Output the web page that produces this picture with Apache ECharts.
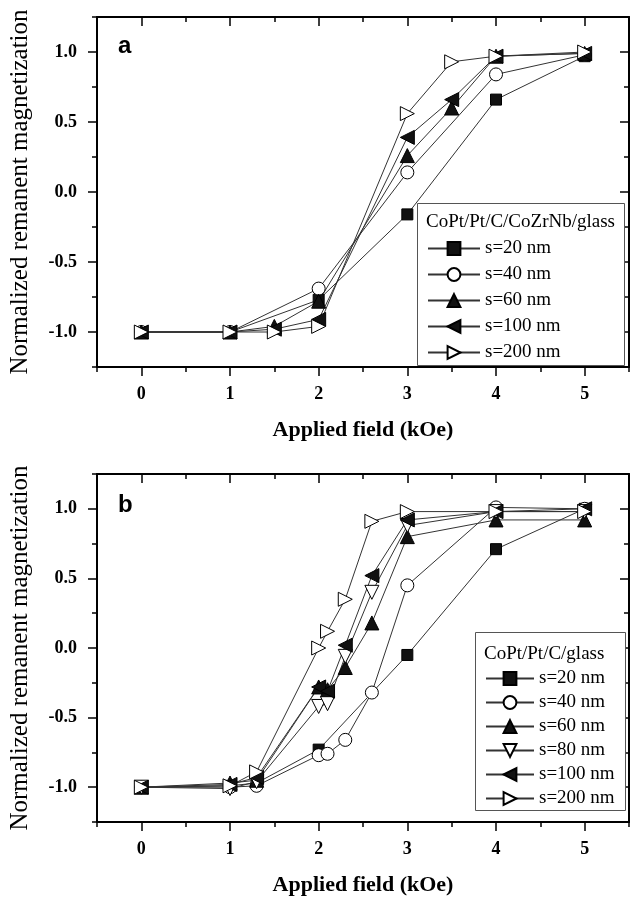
<!DOCTYPE html>
<html>
<head>
<meta charset="utf-8">
<script src="https://cdn.jsdelivr.net/npm/echarts@6/dist/echarts.min.js"></script>
<style>
  html, body { margin: 0; padding: 0; background: #fff; }
  #chart { width: 630px; height: 898px; }
</style>
</head>
<body>
<div id="chart"></div>
<script>
// panel a: CoPt/Pt/C/CoZrNb/glass
var aX20 = [0, 1, 2, 3, 4, 5]
var aY20 = [-1, -1, -0.77, -0.16, 0.66, 0.97]
var aX40 = [0, 1, 2, 3, 4, 5]
var aY40 = [-1, -1, -0.69, 0.14, 0.84, 0.98]
var aX60 = [0, 1, 1.5, 2, 3, 3.5, 4, 5]
var aY60 = [-1, -1, -0.96, -0.78, 0.26, 0.6, 0.97, 0.99]
var aX100 = [0, 1, 1.5, 2, 3, 3.5, 4, 5]
var aY100 = [-1, -1, -0.98, -0.91, 0.39, 0.66, 0.97, 0.99]
var aX200 = [0, 1, 1.5, 2, 3, 3.5, 4, 5]
var aY200 = [-1, -1, -1.0, -0.96, 0.56, 0.93, 0.97, 1.0]

// panel b: CoPt/Pt/C/glass
var bX20 = [0, 1, 1.3, 2, 3, 4, 5]
var bY20 = [-1, -0.99, -0.97, -0.73, -0.05, 0.71, 1.0]
var bX40 = [0, 1, 1.3, 2, 2.1, 2.3, 2.6, 3, 4, 5]
var bY40 = [-1, -1, -0.99, -0.77, -0.76, -0.66, -0.32, 0.45, 1.01, 1.0]
var bX60 = [0, 1, 1.3, 2, 2.1, 2.3, 2.6, 3, 4, 5]
var bY60 = [-1, -0.97, -0.95, -0.28, -0.3, -0.14, 0.18, 0.8, 0.92, 0.92]
var bX80 = [0, 1, 1.3, 2, 2.1, 2.3, 2.6, 3, 4, 5]
var bY80 = [-1, -1.01, -0.96, -0.42, -0.4, -0.06, 0.4, 0.88, 0.98, 0.98]
var bX100 = [0, 1, 1.3, 2, 2.1, 2.3, 2.6, 3, 4, 5]
var bY100 = [-1, -0.98, -0.93, -0.28, -0.31, 0.02, 0.52, 0.92, 0.98, 1.0]
var bX200 = [0, 1, 1.3, 2, 2.1, 2.3, 2.6, 3, 4, 5]
var bY200 = [-1, -0.99, -0.89, 0.0, 0.12, 0.35, 0.91, 0.98, 0.98, 0.98]

var xMajor = [0, 1, 2, 3, 4, 5]
var xMinor = [-0.5, 0.5, 1.5, 2.5, 3.5, 4.5, 5.5]
var yMajor = [-1, -0.5, 0, 0.5, 1]
var yMinor = [-1.25, -0.75, -0.25, 0.25, 0.75, 1.25]

var serif = 'Liberation Serif'

// marker look per sample
var markers = {
  's=20 nm': { symbol: 'rect', size: 11, fill: '#111', rotate: 0 },
  's=40 nm': { symbol: 'circle', size: 13, fill: '#fff', rotate: 0 },
  's=60 nm': { symbol: 'triangle', size: 14, fill: '#111', rotate: 0 },
  's=80 nm': { symbol: 'triangle', size: 14, fill: '#fff', rotate: 180 },
  's=100 nm': { symbol: 'triangle', size: 14, fill: '#111', rotate: 90 },
  's=200 nm': { symbol: 'triangle', size: 14, fill: '#fff', rotate: -90 }
}

function pairs(xs, ys) {
  return xs.map(function(x, i) { return [x, ys[i]] })
}

function makeSeries(name, xs, ys, axisIdx) {
  var m = markers[name]
  return {
    name: name,
    type: 'line',
    xAxisIndex: axisIdx,
    yAxisIndex: axisIdx,
    data: pairs(xs, ys),
    symbol: m.symbol,
    symbolSize: m.size,
    symbolRotate: m.rotate,
    showAllSymbol: true,
    lineStyle: { color: '#333', width: 1 },
    itemStyle: { color: m.fill, borderColor: '#000', borderWidth: 1 },
    emphasis: { disabled: true }
  }
}

var frame = { onZero: false, lineStyle: { color: '#000', width: 2 } }
var tickLine = { color: '#000', width: 1.5 }

function xAxes(grid) {
  var base = { type: 'value', gridIndex: grid, min: -0.5, max: 5.5, splitLine: { show: false } }
  return [
    Object.assign({}, base, {
      position: 'bottom',
      axisLine: frame,
      axisTick: { customValues: xMajor, length: 9, inside: false, lineStyle: tickLine },
      axisLabel: { customValues: xMajor, margin: 18, color: '#000', fontFamily: serif, fontWeight: 'bold', fontSize: 18 },
      name: 'Applied field (kOe)',
      nameLocation: 'middle',
      nameGap: 52,
      nameTextStyle: { color: '#000', fontFamily: serif, fontWeight: 'bold', fontSize: 22 }
    }),
    Object.assign({}, base, {
      position: 'bottom',
      axisLine: { show: false, onZero: false },
      axisTick: { customValues: xMinor, length: 5, lineStyle: tickLine },
      axisLabel: { show: false }
    }),
    Object.assign({}, base, {
      position: 'top',
      axisLine: frame,
      axisTick: { customValues: xMajor, length: 9, inside: true, lineStyle: tickLine },
      axisLabel: { show: false }
    }),
    Object.assign({}, base, {
      position: 'top',
      axisLine: { show: false, onZero: false },
      axisTick: { customValues: xMinor, length: 5, inside: true, lineStyle: tickLine },
      axisLabel: { show: false }
    })
  ]
}

function yAxes(grid) {
  var base = { type: 'value', gridIndex: grid, min: -1.25, max: 1.25, splitLine: { show: false } }
  return [
    Object.assign({}, base, {
      position: 'left',
      axisLine: frame,
      axisTick: { customValues: yMajor, length: 9, lineStyle: tickLine },
      axisLabel: {
        customValues: yMajor, margin: 20, color: '#000', fontFamily: serif, fontWeight: 'bold', fontSize: 18,
        formatter: function(v) { return v.toFixed(1) }
      },
      name: 'Normalized remanent magnetization',
      nameLocation: 'middle',
      nameRotate: 90,
      nameGap: 64,
      nameTextStyle: { color: '#000', fontFamily: serif, fontSize: 25 }
    }),
    Object.assign({}, base, {
      position: 'left',
      axisLine: { show: false, onZero: false },
      axisTick: { customValues: yMinor, length: 5, lineStyle: tickLine },
      axisLabel: { show: false }
    }),
    Object.assign({}, base, {
      position: 'right',
      axisLine: frame,
      axisTick: { customValues: yMajor, length: 9, inside: true, lineStyle: tickLine },
      axisLabel: { show: false }
    }),
    Object.assign({}, base, {
      position: 'right',
      axisLine: { show: false, onZero: false },
      axisTick: { customValues: yMinor, length: 5, inside: true, lineStyle: tickLine },
      axisLabel: { show: false }
    })
  ]
}

var chart = echarts.init(document.getElementById('chart'))

chart.setOption({
  animation: false,
  backgroundColor: '#fff',
  grid: [
    { left: 93, right: 1, top: 17, height: 350 },
    { left: 93, right: 1, top: 474, height: 348 }
  ],
  xAxis: xAxes(0).concat(xAxes(1)),
  yAxis: yAxes(0).concat(yAxes(1)),
  legend: [
    {
      data: ['s=20 nm', 's=40 nm', 's=60 nm', 's=100 nm', 's=200 nm'],
      orient: 'vertical',
      left: 427,
      top: 239,
      itemWidth: 52,
      itemHeight: 16,
      itemGap: 7,
      padding: 0,
      selectedMode: false,
      textStyle: { color: '#000', fontFamily: serif, fontSize: 19 },
      z: 10
    },
    {
      data: ['s=20 nm', 's=40 nm', 's=60 nm', 's=80 nm', 's=100 nm', 's=200 nm'],
      orient: 'vertical',
      left: 485,
      top: 669,
      itemWidth: 48,
      itemHeight: 16,
      itemGap: 5,
      padding: 0,
      selectedMode: false,
      textStyle: { color: '#000', fontFamily: serif, fontSize: 19 },
      z: 10
    }
  ],
  graphic: [
    { type: 'rect', left: 417, top: 203, z: 8, shape: { width: 207, height: 162 }, style: { fill: '#fff', stroke: '#555', lineWidth: 1 } },
    { type: 'text', left: 426, top: 213, z: 9, style: { text: 'CoPt/Pt/C/CoZrNb/glass', fill: '#000', fontFamily: serif, fontSize: 19 } },
    { type: 'rect', left: 475, top: 632, z: 8, shape: { width: 150, height: 178 }, style: { fill: '#fff', stroke: '#555', lineWidth: 1 } },
    { type: 'text', left: 484, top: 645, z: 9, style: { text: 'CoPt/Pt/C/glass', fill: '#000', fontFamily: serif, fontSize: 19 } },
    { type: 'text', left: 118, top: 34, z: 9, style: { text: 'a', fill: '#000', fontFamily: 'Liberation Sans', fontWeight: 'bold', fontSize: 24 } },
    { type: 'text', left: 118, top: 493, z: 9, style: { text: 'b', fill: '#000', fontFamily: 'Liberation Sans', fontWeight: 'bold', fontSize: 24 } }
  ],
  series: [
    makeSeries('s=20 nm', aX20, aY20, 0),
    makeSeries('s=40 nm', aX40, aY40, 0),
    makeSeries('s=60 nm', aX60, aY60, 0),
    makeSeries('s=100 nm', aX100, aY100, 0),
    makeSeries('s=200 nm', aX200, aY200, 0),
    makeSeries('s=20 nm', bX20, bY20, 4),
    makeSeries('s=40 nm', bX40, bY40, 4),
    makeSeries('s=60 nm', bX60, bY60, 4),
    makeSeries('s=80 nm', bX80, bY80, 4),
    makeSeries('s=100 nm', bX100, bY100, 4),
    makeSeries('s=200 nm', bX200, bY200, 4)
  ]
})
</script>
</body>
</html>
